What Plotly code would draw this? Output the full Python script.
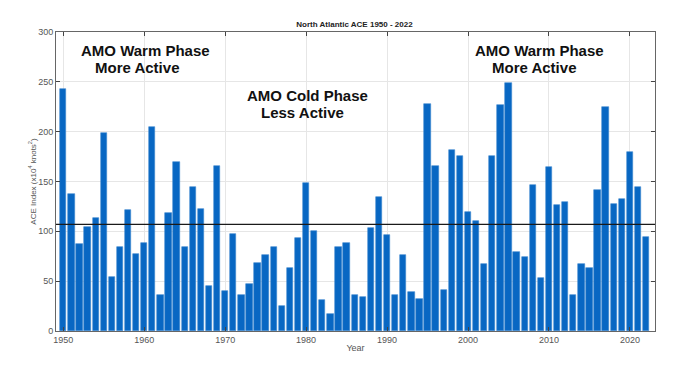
import plotly.graph_objects as go

years = list(range(1950, 2023))
ace = [243, 137, 87, 104, 113, 199, 54, 84, 121, 77,
       88, 205, 36, 118, 170, 84, 144, 122, 45, 166,
       40, 97, 36, 47, 68, 76, 84, 25, 63, 93,
       149, 100, 31, 17, 84, 88, 36, 34, 103, 134,
       96, 36, 76, 39, 32, 228, 166, 41, 182, 176,
       119, 110, 67, 176, 227, 249, 79, 74, 146, 53,
       165, 126, 129, 36, 67, 63, 141, 225, 127, 132,
       180, 144, 94]
mean_ace = 107
x_ticks = [1950, 1960, 1970, 1980, 1990, 2000, 2010, 2020]
y_ticks = [0, 50, 100, 150, 200, 250, 300]

notes = [
    ("AMO Warm Phase", 1951.95, 281),
    ("More Active", 1953.7, 264),
    ("AMO Cold Phase", 1972.4, 236),
    ("Less Active", 1974.2, 219),
    ("AMO Warm Phase", 2000.6, 281),
    ("More Active", 2002.75, 264),
]

FONT = "Liberation Sans, Arial, sans-serif"

fig = go.Figure()
fig.add_trace(go.Bar(
    x=years, y=ace, width=0.78,
    marker=dict(color="#0867C3", line=dict(color="#3d86d0", width=0.6)),
    showlegend=False,
))
fig.add_hline(y=mean_ace, line=dict(color="#1a1a1a", width=1.3))

for text, xv, yv in notes:
    fig.add_annotation(x=xv, y=yv, text="<b>%s</b>" % text, showarrow=False,
                       xanchor="left", yanchor="middle",
                       font=dict(family=FONT, size=15, color="#111111"))

fig.update_layout(
    width=672, height=359,
    margin=dict(l=48, r=25, t=24, b=36),
    paper_bgcolor="white", plot_bgcolor="white",
    bargap=0,
    title=dict(text="<b>North Atlantic ACE 1950 - 2022</b>", x=0.5156, xanchor="center",
               y=0.955, yanchor="middle",
               font=dict(family=FONT, size=8, color="#222222")),
    font=dict(family=FONT, size=9, color="#555555"),
)
fig.update_xaxes(
    range=[1949.1, 2023.1], tickvals=x_ticks, ticktext=[str(v) for v in x_ticks],
    showgrid=True, gridcolor="#e6e6e6", gridwidth=1,
    showline=True, linecolor="#666666", linewidth=1, mirror="allticks",
    ticks="inside", ticklen=4, tickcolor="#444444",
    tickfont=dict(size=9, color="#555555"),
    title=dict(text="Year", font=dict(size=9, color="#555555"), standoff=0),
    zeroline=False,
)
fig.update_yaxes(
    range=[0, 300], tickvals=y_ticks,
    showgrid=True, gridcolor="#e6e6e6", gridwidth=1,
    showline=True, linecolor="#666666", linewidth=1, mirror="allticks",
    ticks="inside", ticklen=4, tickcolor="#444444",
    tickfont=dict(size=9, color="#555555"),
    title=dict(text="ACE Index (x10<sup>4</sup> knots<sup>2</sup>)",
               font=dict(size=8, color="#555555"), standoff=0),
    zeroline=False,
)

fig.write_html("out.html")
